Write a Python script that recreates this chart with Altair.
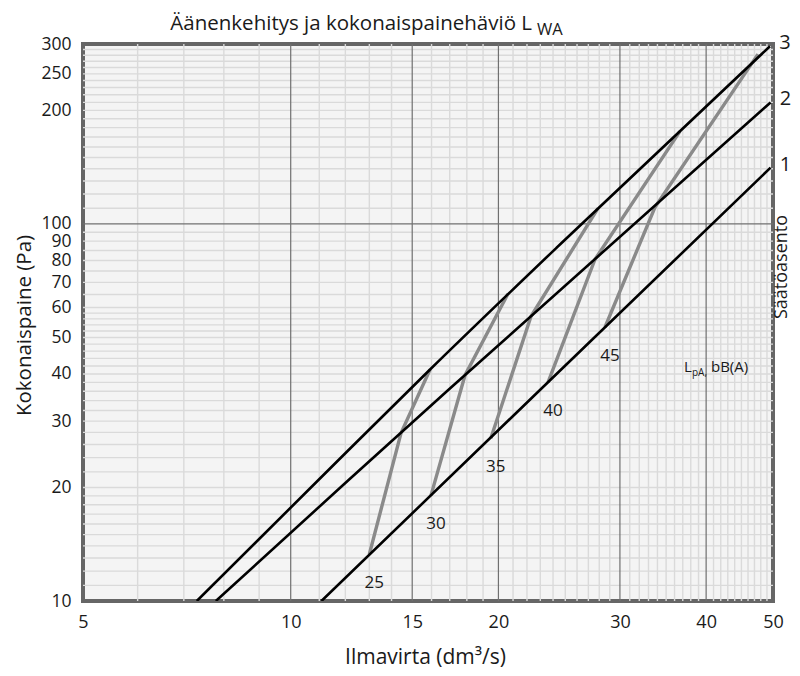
import altair as alt
import pandas as pd

FONT = "Open Sans"
INK = "#1a1a1a"

# ---------------- data ----------------
x_ticks = [5, 10, 15, 20, 30, 40, 50]
y_ticks = [10, 20, 30, 40, 50, 60, 70, 80, 90, 100, 200, 250, 300]

x_major = [10, 15, 20, 30, 40]
y_major = [100]
x_minor = [v for v in range(6, 50) if v not in x_major]
y_minor = (list(range(11, 20)) + list(range(20, 61, 2))
           + list(range(65, 100, 5)) + list(range(110, 300, 10)))

# damper settings (black lines)
setting_names = ["1", "2", "3"]
setting1_x = [11.08, 23.76, 49.6]
setting1_y = [10, 38.5, 141]
setting2_x = [7.79, 12.12, 17.01, 49.6]
setting2_y = [10, 20.9, 36.6, 210]
setting3_x = [7.31, 10.96, 15.92, 24.56, 49.5]
setting3_y = [10, 20.9, 41.1, 88.2, 296]

# sound level curves LpA (grey lines)
level_names = ["25", "30", "35", "40", "45"]
lp25_x = [13.0, 14.45, 15.92]
lp25_y = [13.3, 27.9, 41.1]
lp30_x = [15.97, 17.89, 20.65]
lp30_y = [19.06, 39.7, 65.3]
lp35_x = [19.5, 22.3, 27.88]
lp35_y = [27.0, 56.9, 110.0]
lp40_x = [23.6, 27.6, 36.65]
lp40_y = [38.0, 80.5, 176.0]
lp45_x = [28.54, 33.72, 47.56]
lp45_y = [53.2, 110.7, 282.0]

# ---------------- tables ----------------
def series_table(names, xs, ys):
    rows = []
    for n, xv, yv in zip(names, xs, ys):
        for i, (a, b) in enumerate(zip(xv, yv)):
            rows.append({"name": n, "i": i, "x": a, "y": b})
    return pd.DataFrame(rows)

settings_df = series_table(setting_names,
                           [setting1_x, setting2_x, setting3_x],
                           [setting1_y, setting2_y, setting3_y])
levels_df = series_table(level_names,
                         [lp25_x, lp30_x, lp35_x, lp40_x, lp45_x],
                         [lp25_y, lp30_y, lp35_y, lp40_y, lp45_y])
level_start = levels_df[levels_df["i"] == 0]
setting_end = settings_df.loc[settings_df.groupby("name")["i"].idxmax()]

xscale = alt.Scale(type="log", domain=[5, 50], nice=False)
yscale = alt.Scale(type="log", domain=[10, 300], nice=False)

x_axis = alt.Axis(values=x_ticks, format="d", grid=False, ticks=False, domain=False,
                  labelFontSize=18, labelPadding=12, labelFlush=False, labelOverlap=False,
                  labelColor=INK, title="Ilmavirta (dm³/s)", titleFontSize=21,
                  titleFontWeight="normal", titleColor=INK, titleX=342, titleY=62,
                  titleBaseline="alphabetic")
y_axis = alt.Axis(values=y_ticks, format="d", grid=False, ticks=False, domain=False,
                  labelFontSize=17.5, labelPadding=12, labelFlush=False, labelOverlap=False,
                  labelColor=INK, title="Kokonaispaine (Pa)", titleFontSize=20.5,
                  titleFontWeight="normal", titleColor=INK, titleX=-53, titleY=281,
                  titleBaseline="alphabetic", titleAngle=270)

X = alt.X("x:Q", scale=xscale, axis=x_axis)
Y = alt.Y("y:Q", scale=yscale, axis=y_axis)

def vrules(vals, color, width):
    return alt.Chart(pd.DataFrame({"x": vals})).mark_rule(
        color=color, strokeWidth=width).encode(x=X)

def hrules(vals, color, width):
    return alt.Chart(pd.DataFrame({"y": vals})).mark_rule(
        color=color, strokeWidth=width).encode(y=Y)

grid_minor_x = vrules(x_minor, "#dadada", 1.4)
grid_minor_y = hrules(y_minor, "#dadada", 1.4)
grid_major_x = vrules(x_major, "#707070", 1.2)
grid_major_y = hrules(y_major, "#707070", 1.2)

grey_lines = alt.Chart(levels_df).mark_line(color="#8a8a8a", strokeWidth=3.4, clip=True).encode(
    x=X, y=Y, detail="name:N", order="i:Q")
black_lines = alt.Chart(settings_df).mark_line(color="black", strokeWidth=2.6, clip=True,
                                               interpolate="monotone").encode(
    x=X, y=Y, detail="name:N", order="i:Q")

level_labels = alt.Chart(level_start).mark_text(
    fontSize=17, color=INK, dx=5, dy=29, baseline="middle", align="center").encode(
    x=X, y=Y, text="name:N")

setting_labels = alt.Chart(setting_end).mark_text(
    fontSize=20, color=INK, dx=15, dy=-3, baseline="middle", align="center").encode(
    x=X, y=Y, text="name:N")

one = pd.DataFrame({"a": [0]})

# LpA annotation anchored in data coordinates
lpa_anchor = pd.DataFrame({"x": [37.15], "y": [40.5]})
lpa_L = alt.Chart(lpa_anchor).mark_text(fontSize=15, color=INK, align="left",
                                        baseline="alphabetic").encode(x=X, y=Y, text=alt.value("L"))
lpa_sub = alt.Chart(lpa_anchor).mark_text(fontSize=10, color=INK, align="left", dx=8, dy=4.5,
                                          baseline="alphabetic").encode(x=X, y=Y, text=alt.value("pA,"))
lpa_unit = alt.Chart(lpa_anchor).mark_text(fontSize=15, color=INK, align="left", dx=27,
                                           baseline="alphabetic").encode(x=X, y=Y, text=alt.value("bB(A)"))

title_main = alt.Chart(one).mark_text(fontSize=20.5, color=INK, align="right",
                                      baseline="alphabetic").encode(
    x=alt.value(449), y=alt.value(-14), text=alt.value("Äänenkehitys ja kokonaispainehäviö L"))
title_sub = alt.Chart(one).mark_text(fontSize=16.5, color=INK, align="left",
                                     baseline="alphabetic").encode(
    x=alt.value(454), y=alt.value(-9.5), text=alt.value("WA"))

right_title = alt.Chart(one).mark_text(fontSize=18, color=INK, align="center",
                                       baseline="alphabetic", angle=270).encode(
    x=alt.value(704), y=alt.value(223), text=alt.value("Säätöasento"))

chart = alt.layer(
    grid_minor_x, grid_minor_y, grid_major_x, grid_major_y,
    grey_lines, black_lines, level_labels, setting_labels,
    lpa_L, lpa_sub, lpa_unit, title_main, title_sub, right_title
).properties(
    width=690, height=557,
    padding={"left": 75, "top": 36, "right": 19, "bottom": 67},
    autosize=alt.AutoSizeParams(type="none"),
).configure(
    font=FONT
).configure_view(
    stroke="#666666", strokeWidth=4, fill="#f4f4f4"
)

chart.save("out.html", embed_options={"renderer": "svg", "actions": False})
